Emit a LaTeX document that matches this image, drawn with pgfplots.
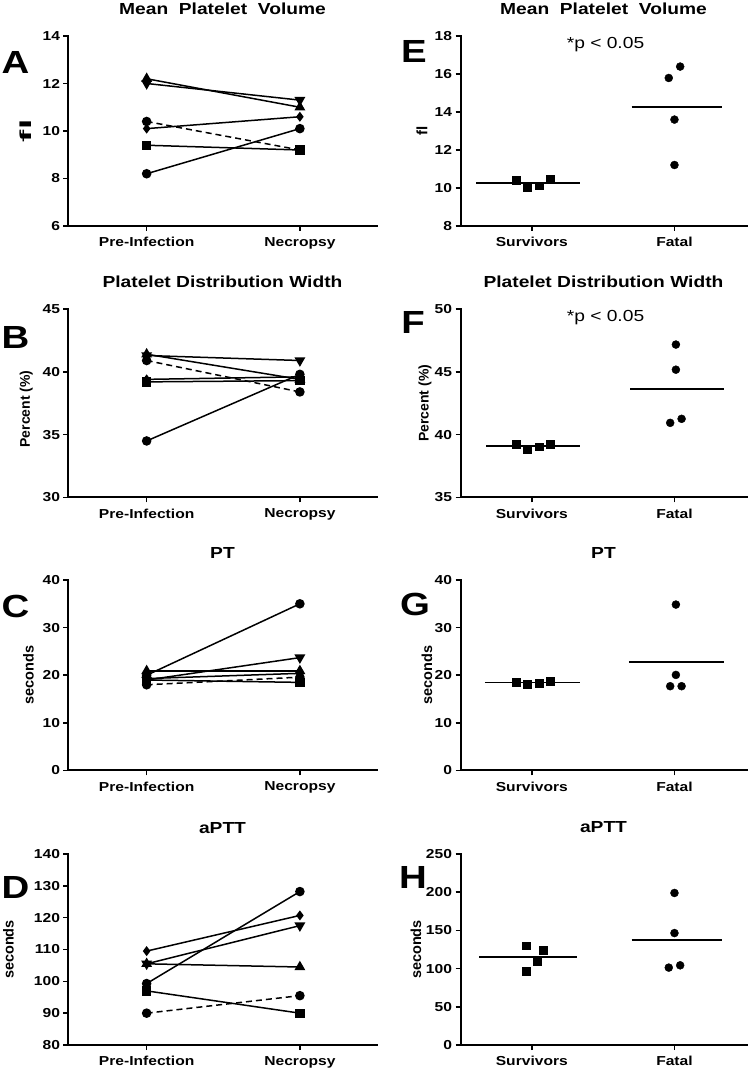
\documentclass[border=0pt]{standalone}
\usepackage{fontspec}
\setmainfont{Liberation Sans}[FakeStretch=1.2]
\newfontfamily\rotfont{Liberation Sans}
\usepackage{graphicx}
\usepackage{pgfplots}
\pgfplotsset{compat=1.18}

\pgfplotsset{
  gp/.style={
    scale only axis,
    axis x line=bottom, axis y line=left,
    axis line style={-, line width=2pt, line cap=rect},
    tick align=outside, major tick length=5pt,
    every tick/.style={line width=1.6pt, black},
    minor tick num=0,
    xtick={0,1},
    /pgf/number format/assume math mode=true,
    tick label style={font=\fontsize{13}{13}\selectfont\bfseries},
    xticklabel style={yshift=-3pt},
    title style={at={(axis description cs:0.5,1)}, anchor=base, yshift=15pt, font=\fontsize{16}{16}\selectfont\bfseries},
    ylabel style={anchor=center, font=\rotfont\bfseries\fontsize{14.5}{14.5}\selectfont},
    clip=false,
    enlargelimits=false,
    anchor=south west,
  },
  gpl/.style={gp, width=308pt, xmin=-0.51, xmax=1.5, xticklabels={Pre-Infection,Necropsy}},
  gpr/.style={gp, width=286pt, xmin=-0.5, xmax=1.505, xticklabels={Survivors,Fatal}},
  ln/.style={line width=1.5pt, black},
  mc/.style={mark=*, mark size=4pt, mark options={solid}},
  ms/.style={mark=square*, mark size=3.9pt, mark options={solid}},
  mtu/.style={mark=triangle*, mark size=4.8pt, mark options={solid}},
  mtd/.style={mark=triangle*, mark size=4.8pt, mark options={solid, rotate=180}},
  md/.style={mark=diamond*, mark size=3.8pt, mark options={solid}},
  dsh/.style={dash pattern=on 6pt off 4pt},
  mean/.style={line width=1.9pt, black, mark=none},
}
\newcommand{\panel}[1]{\fontsize{32}{32}\selectfont\bfseries #1}
\newcommand{\pval}{\fontsize{16}{16}\selectfont *p < 0.05}

\begin{document}
\begin{tikzpicture}
\useasboundingbox (0pt,0pt) rectangle (750pt,1068pt);

% ---------------- A ----------------
\begin{axis}[gpl, at={(68.5pt,842pt)}, height=190pt,
  ymin=6, ymax=14, ytick={6,8,10,12,14},
  title={Mean\ \ Platelet\ \ Volume},
  ylabel={\scalebox{2.3}[1]{\fontsize{16}{16}\selectfont fl}},
  ylabel style={at={(axis description cs:-0.14,0.5)}}]
\addplot[ln, dsh, mc] coordinates {(0,10.4) (1,9.2)};
\addplot[ln, mc] coordinates {(0,8.2) (1,10.1)};
\addplot[ln, ms] coordinates {(0,9.4) (1,9.2)};
\addplot[ln, mtu] coordinates {(0,12.2) (1,11.0)};
\addplot[ln, mtd] coordinates {(0,12.0) (1,11.3)};
\addplot[ln, md] coordinates {(0,10.1) (1,10.6)};
\node at (axis description cs:-0.172,0.863) {\panel{A}};
\end{axis}

% ---------------- E ----------------
\begin{axis}[gpr, at={(460.5pt,842pt)}, height=190pt,
  ymin=8, ymax=18, ytick={8,10,12,14,16,18},
  title={Mean\ \ Platelet\ \ Volume},
  ylabel={fl},
  ylabel style={at={(axis description cs:-0.135,0.5)}, font=\rotfont\bfseries\fontsize{15}{15}\selectfont}]
\addplot[only marks, ms] coordinates {(-0.11,10.42) (-0.03,10.04) (0.05,10.12) (0.13,10.49)};
\addplot[only marks, mc] coordinates {(0.96,15.79) (1.04,16.39) (1.0,13.6) (1.0,11.21)};
\addplot[mean] coordinates {(-0.39,10.27) (0.34,10.27)};
\addplot[mean] coordinates {(0.70,14.25) (1.33,14.25)};
\node at (axis description cs:-0.163,0.916) {\panel{E}};
\node at (axis description cs:0.507,0.953) {\pval};
\end{axis}

% ---------------- B ----------------
\begin{axis}[gpl, at={(68.5pt,570.5pt)}, height=188.5pt,
  ymin=30, ymax=45, ytick={30,35,40,45},
  title={Platelet Distribution Width},
  ylabel={Percent (\%)},
  ylabel style={at={(axis description cs:-0.137,0.47)}, font=\rotfont\bfseries\fontsize{14}{14}\selectfont}]
\addplot[ln, dsh, mc] coordinates {(0,40.9) (1,38.4)};
\addplot[ln, mc] coordinates {(0,34.5) (1,39.8)};
\addplot[ln, ms] coordinates {(0,39.2) (1,39.3)};
\addplot[ln, md] coordinates {(0,39.4) (1,39.6)};
\addplot[ln, mtu] coordinates {(0,41.4) (1,39.4)};
\addplot[ln, mtd] coordinates {(0,41.3) (1,40.9)};
\node at (axis description cs:-0.172,0.851) {\panel{B}};
\end{axis}

% ---------------- F ----------------
\begin{axis}[gpr, at={(460.5pt,570.5pt)}, height=188.5pt,
  ymin=35, ymax=50, ytick={35,40,45,50},
  title={Platelet Distribution Width},
  ylabel={Percent (\%)},
  ylabel style={at={(axis description cs:-0.124,0.5)}, font=\rotfont\bfseries\fontsize{14}{14}\selectfont}]
\addplot[only marks, ms] coordinates {(-0.11,39.25) (-0.03,38.86) (0.05,39.04) (0.13,39.25)};
\addplot[only marks, mc] coordinates {(1.01,47.17) (1.01,45.17) (0.97,40.94) (1.05,41.26)};
\addplot[mean] coordinates {(-0.32,39.12) (0.34,39.12)};
\addplot[mean] coordinates {(0.69,43.64) (1.35,43.64)};
\node at (axis description cs:-0.166,0.926) {\panel{F}};
\node at (axis description cs:0.507,0.952) {\pval};
\end{axis}

% ---------------- C ----------------
\begin{axis}[gpl, at={(68.5pt,297.5pt)}, height=190.5pt,
  ymin=0, ymax=40, ytick={0,10,20,30,40},
  title={PT},
  ylabel={seconds},
  ylabel style={at={(axis description cs:-0.13,0.5)}}]
\addplot[ln, dsh, mc] coordinates {(0,18.0) (1,19.6)};
\addplot[ln, mc] coordinates {(0,20.0) (1,35.0)};
\addplot[ln, ms] coordinates {(0,19.0) (1,18.5)};
\addplot[ln, md] coordinates {(0,19.3) (1,20.4)};
\addplot[ln, mtu] coordinates {(0,20.9) (1,20.9)};
\addplot[ln, mtd] coordinates {(0,19.0) (1,23.7)};
\node at (axis description cs:-0.172,0.863) {\panel{C}};
\end{axis}

% ---------------- G ----------------
\begin{axis}[gpr, at={(460.5pt,297.5pt)}, height=190.5pt,
  ymin=0, ymax=40, ytick={0,10,20,30,40},
  title={PT},
  ylabel={seconds},
  ylabel style={at={(axis description cs:-0.117,0.5)}}]
\addplot[only marks, ms] coordinates {(-0.11,18.54) (-0.03,18.2) (0.05,18.4) (0.13,18.8)};
\addplot[only marks, mc] coordinates {(1.01,34.84) (1.01,20.07) (0.97,17.7) (1.05,17.7)};
\addplot[mean] coordinates {(-0.33,18.47) (0.34,18.47)};
\addplot[mean] coordinates {(0.68,22.7) (1.35,22.7)};
\node at (axis description cs:-0.159,0.874) {\panel{G}};
\end{axis}

% ---------------- D ----------------
\begin{axis}[gpl, at={(68.5pt,23pt)}, height=191pt,
  ymin=80, ymax=140, ytick={80,90,100,110,120,130,140},
  title={aPTT},
  ylabel={seconds},
  ylabel style={at={(axis description cs:-0.195,0.5)}}]
\addplot[ln, dsh, mc] coordinates {(0,90.0) (1,95.5)};
\addplot[ln, mc] coordinates {(0,99.3) (1,128.2)};
\addplot[ln, ms] coordinates {(0,97.0) (1,90.0)};
\addplot[ln, md] coordinates {(0,109.5) (1,120.7)};
\addplot[ln, mtu] coordinates {(0,105.5) (1,104.5)};
\addplot[ln, mtd] coordinates {(0,105.5) (1,117.5)};
\node at (axis description cs:-0.172,0.826) {\panel{D}};
\end{axis}

% ---------------- H ----------------
\begin{axis}[gpr, at={(460.5pt,23pt)}, height=191pt,
  ymin=0, ymax=250, ytick={0,50,100,150,200,250},
  title={aPTT},
  ylabel={seconds},
  ylabel style={at={(axis description cs:-0.156,0.5)}}]
\addplot[only marks, ms] coordinates {(-0.04,130) (-0.04,96.5) (0.035,110) (0.08,124)};
\addplot[only marks, mc] coordinates {(1.0,199) (1.0,146.5) (0.96,101.3) (1.04,104.3)};
\addplot[mean] coordinates {(-0.37,115.5) (0.32,115.5)};
\addplot[mean] coordinates {(0.70,138) (1.33,138)};
\node at (axis description cs:-0.166,0.875) {\panel{H}};
\end{axis}
\end{tikzpicture}
\end{document}
